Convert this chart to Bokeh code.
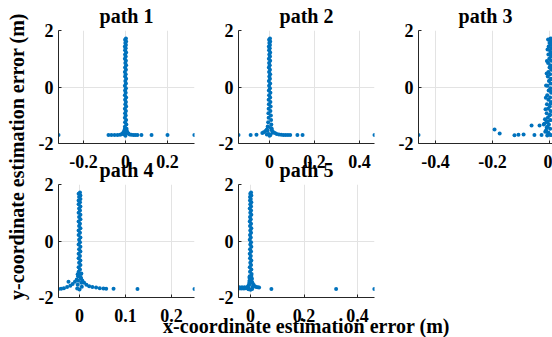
from bokeh.plotting import figure
from bokeh.layouts import row, column
from bokeh.models import FixedTicker, Range1d
from bokeh.embed import file_html
from bokeh.resources import INLINE

# ---------------- data ----------------
titles = ["path 1", "path 2", "path 3", "path 4", "path 5"]
x_label = "x-coordinate estimation error (m)"
y_label = "y-coordinate estimation error (m)"

x_limits = [(-0.319, 0.3286), (-0.138, 0.467), (-0.46, 0.0105), (-0.0457, 0.25), (-0.045, 0.4636)]
y_limits = (-2, 2)
x_ticks = [[-0.2, 0, 0.2], [0, 0.2, 0.4], [-0.4, -0.2, 0], [0, 0.1, 0.2], [0, 0.2, 0.4]]
x_tick_labels = [["-0.2", "0", "0.2"], ["0", "0.2", "0.4"], ["-0.4", "-0.2", "0"],
                 ["0", "0.1", "0.2"], ["0", "0.2", "0.4"]]
y_ticks = [-2, 0, 2]
y_tick_labels = ["-2", "0", "2"]

# y of the dense vertical band (shared shape of all paths)
column_y = [1.72, 1.67, 1.61, 1.56, 1.49, 1.43, 1.37, 1.30, 1.22, 1.15,
            1.08, 1.00, 0.93, 0.85, 0.77, 0.69, 0.61, 0.53, 0.45, 0.37,
            0.29, 0.21, 0.12, 0.04, -0.04, -0.12, -0.20, -0.29, -0.37, -0.45,
            -0.53, -0.61, -0.69, -0.77, -0.85, -0.93, -1.01, -1.09, -1.17, -1.25,
            -1.33, -1.41, -1.48, -1.55, -1.62, -1.68]

p1_col_x = [0.002, -0.002, 0.003, -0.001, 0.002, -0.003, 0.001, -0.002, 0.003, -0.002,
            0.001, -0.003, 0.002, -0.001, 0.003, -0.002, 0.002, -0.003, 0.001, -0.002,
            0.003, -0.001, 0.002, -0.003, 0.002, -0.002, 0.001, -0.003, 0.003, -0.002,
            0.002, -0.001, 0.003, -0.003, 0.002, -0.002, 0.001, -0.003, 0.003, -0.002,
            0.004, -0.003, 0.005, -0.004, 0.006, -0.005]
p2_col_x = [0.002, -0.002, 0.003, -0.001, 0.002, -0.003, 0.001, -0.002, 0.003, -0.001,
            0.002, -0.003, 0.003, -0.002, 0.001, -0.003, 0.002, -0.002, 0.003, -0.001,
            0.002, -0.003, 0.003, -0.002, 0.002, -0.003, 0.004, -0.002, 0.003, -0.004,
            0.004, -0.003, 0.005, -0.004, 0.004, -0.005, 0.006, -0.004, 0.007, -0.006,
            0.008, -0.007, 0.010, -0.009, 0.013, -0.012]
p3_col_x = [0.004, -0.002, 0.006, 0.000, 0.005, -0.003, 0.007, 0.001, 0.004, -0.004,
            0.006, -0.001, 0.005, -0.005, 0.003, 0.000, 0.006, -0.004, 0.002, -0.006,
            0.005, -0.002, 0.004, -0.007, 0.003, -0.003, 0.006, -0.008, 0.002, -0.004,
            0.005, -0.009, 0.001, -0.005, 0.004, -0.010, 0.000, -0.006, 0.003, -0.011,
            -0.002, -0.007, 0.002, -0.012, -0.004, 0.001]
p4_col_x = [0.001, -0.002, 0.002, -0.001, 0.002, -0.002, 0.001, -0.002, 0.002, -0.001,
            0.001, -0.002, 0.002, -0.001, 0.002, -0.002, 0.001, -0.001, 0.002, -0.002,
            0.001, -0.002, 0.002, -0.001, 0.001, -0.002, 0.002, -0.001, 0.002, -0.002,
            0.001, -0.002, 0.002, -0.001, 0.002, -0.002, 0.001, -0.002, 0.003, -0.002,
            0.003, -0.003, 0.004, -0.004, 0.005, -0.005]
p5_col_x = [0.002, -0.001, 0.003, -0.002, 0.001, -0.002, 0.003, -0.001, 0.002, -0.003,
            0.002, -0.001, 0.003, -0.002, 0.001, -0.003, 0.002, -0.002, 0.003, -0.001,
            0.002, -0.002, 0.001, -0.003, 0.002, -0.001, 0.003, -0.002, 0.002, -0.003,
            0.001, -0.002, 0.003, -0.001, 0.002, -0.003, 0.003, -0.002, 0.004, -0.003,
            0.005, -0.004, 0.006, -0.005, 0.008, -0.007]

# flare at the bottom of the band and isolated outliers
p1_tail_x = [-0.004, 0.005, -0.008, 0.009, -0.013, 0.014, -0.019, 0.020, -0.026, 0.028, 0.000,
             -0.319, -0.081, -0.067, -0.052, -0.038, 0.038, 0.047, 0.057, 0.076, 0.124, 0.200, 0.328]
p1_tail_y = [-1.50, -1.53, -1.58, -1.60, -1.64, -1.65, -1.67, -1.68, -1.69, -1.69, -1.73,
             -1.70, -1.70, -1.70, -1.70, -1.70, -1.70, -1.70, -1.70, -1.70, -1.70, -1.70, -1.70]

p2_tail_x = [-0.008, -0.012, -0.018, -0.026, -0.032, 0.006, 0.010, 0.016, 0.024, 0.032,
             0.042, 0.052, 0.062, 0.072, 0.082, 0.092, 0.000, -0.004, 0.004,
             -0.138, -0.084, -0.058, 0.124, 0.147, 0.467]
p2_tail_y = [-1.40, -1.50, -1.56, -1.60, -1.63, -1.45, -1.53, -1.59, -1.63, -1.66,
             -1.68, -1.69, -1.70, -1.70, -1.70, -1.70, -1.73, -1.66, -1.70,
             -1.70, -1.70, -1.69, -1.70, -1.70, -1.70]

p3_tail_x = [-0.005, 0.004, -0.007, 0.005, -0.009, 0.006, -0.010, 0.003, -0.012, 0.006,
             -0.013, 0.004, -0.014, 0.002, -0.016, -0.006, -0.018, -0.010, -0.015, -0.004,
             -0.008, 0.004,
             -0.460, -0.193, -0.175, -0.123, -0.109, -0.091, -0.063, -0.053, -0.035, -0.028,
             -0.020, -0.012]
p3_tail_y = [1.68, 1.52, 1.33, 1.12, 0.92, 0.71, 0.48, 0.27, 0.05, -0.16,
             -0.38, -0.58, -0.79, -0.98, -1.14, -1.22, -1.30, -1.44, -1.58, -1.64,
             -1.72, -1.70,
             -1.70, -1.50, -1.65, -1.71, -1.69, -1.68, -1.36, -1.70, -1.36, -1.70,
             -1.33, -1.55]

p4_tail_x = [-0.003, -0.006, -0.010, -0.015, -0.024, -0.020, -0.027, -0.034, -0.040, -0.046,
             0.003, 0.006, 0.010, 0.015, 0.021, 0.028, 0.036, 0.044, 0.052, 0.058,
             0.074, 0.126, 0.250, 0.000, -0.004, 0.004]
p4_tail_y = [-1.25, -1.36, -1.44, -1.52, -1.44, -1.58, -1.63, -1.67, -1.69, -1.70,
             -1.30, -1.40, -1.48, -1.55, -1.60, -1.63, -1.65, -1.67, -1.68, -1.69,
             -1.69, -1.70, -1.70, -1.72, -1.18, -1.15]

p5_tail_x = [-0.045, -0.040, -0.035, -0.030, -0.025, -0.020, -0.015, -0.011, -0.007, -0.004,
             0.004, 0.007, 0.011, 0.016, 0.021, 0.027, 0.032, 0.006, 0.000, -0.008,
             -0.004, 0.003, -0.042, -0.032, -0.022,
             0.078, 0.320, 0.463]
p5_tail_y = [-1.68, -1.67, -1.68, -1.67, -1.68, -1.67, -1.66, -1.62, -1.56, -1.46,
             -1.38, -1.48, -1.55, -1.60, -1.63, -1.64, -1.65, -1.70, -1.73, -1.71,
             -1.30, -1.24, -1.64, -1.64, -1.64,
             -1.70, -1.70, -1.70]

col_xs = [p1_col_x, p2_col_x, p3_col_x, p4_col_x, p5_col_x]
tail_xs = [p1_tail_x, p2_tail_x, p3_tail_x, p4_tail_x, p5_tail_x]
tail_ys = [p1_tail_y, p2_tail_y, p3_tail_y, p4_tail_y, p5_tail_y]

# ---------------- style ----------------
FONT = "Liberation Serif"
BLUE = "#0072BD"
AXIS = "#262626"
GRID = "#e3e3e3"


def make_panel(i, frame_w, left, right, top, bottom, xlabel=None):
    p = figure(frame_width=frame_w, frame_height=113,
               x_range=Range1d(*x_limits[i]), y_range=Range1d(*y_limits),
               title=titles[i], output_backend="svg", toolbar_location=None,
               min_border_left=left, min_border_right=right,
               min_border_top=top, min_border_bottom=bottom)
    p.background_fill_alpha = 0
    p.border_fill_alpha = 0
    p.outline_line_color = None

    p.title.text_font = FONT
    p.title.text_font_size = "20px"
    p.title.text_font_style = "bold"
    p.title.text_color = "#000000"
    p.title.align = "center"
    p.title.standoff = 7

    p.xaxis.ticker = FixedTicker(ticks=x_ticks[i])
    p.xaxis.major_label_overrides = {t: s for t, s in zip(x_ticks[i], x_tick_labels[i])}
    p.yaxis.ticker = FixedTicker(ticks=y_ticks)
    p.yaxis.major_label_overrides = {t: s for t, s in zip(y_ticks, y_tick_labels)}
    for ax in (p.xaxis, p.yaxis):
        ax.axis_line_color = AXIS
        ax.axis_line_width = 1
        ax.major_tick_line_color = AXIS
        ax.major_tick_in = 3
        ax.major_tick_out = 0
        ax.minor_tick_line_color = None
        ax.major_label_text_font = FONT
        ax.major_label_text_font_size = "18px"
        ax.major_label_text_font_style = "bold"
        ax.major_label_text_color = "#000000"
    p.xaxis.major_label_standoff = 11
    p.yaxis.major_label_standoff = 5
    if xlabel:
        p.xaxis.axis_label = xlabel
        p.xaxis.axis_label_text_font = FONT
        p.xaxis.axis_label_text_font_size = "20px"
        p.xaxis.axis_label_text_font_style = "bold"
        p.xaxis.axis_label_text_color = "#000000"
        p.xaxis.axis_label_standoff = -10

    p.grid.grid_line_color = GRID
    p.grid.grid_line_width = 1

    n = min(len(col_xs[i]), len(column_y))
    xs = col_xs[i][:n] + tail_xs[i]
    ys = column_y[:n] + tail_ys[i]
    p.scatter(xs, ys, size=4, fill_color=BLUE, line_color=None)
    return p


f1 = make_panel(0, 136, 24, 20, 32, 34)
f2 = make_panel(1, 136, 24, 20, 32, 34)
f3 = make_panel(2, 134, 24, 0, 32, 34)
f4 = make_panel(3, 136, 24, 20, 32, 34)
f5 = make_panel(4, 136, 88, 86, 32, 34, xlabel=x_label)
f5.margin = (0, 0, 0, -64)

# narrow panel holding the shared y label
ylab = figure(width=34, height=337, x_range=Range1d(0, 1), y_range=Range1d(0, 1),
              title=y_label, title_location="left", x_axis_type=None, y_axis_type=None,
              output_backend="svg", toolbar_location=None,
              min_border_left=27, min_border_right=0, min_border_top=0, min_border_bottom=25)
ylab.outline_line_color = None
ylab.background_fill_alpha = 0
ylab.border_fill_alpha = 0
ylab.grid.visible = False
ylab.title.text_font = FONT
ylab.title.text_font_size = "20px"
ylab.title.text_font_style = "bold"
ylab.title.text_color = "#000000"
ylab.title.align = "center"
ylab.title.standoff = 0

row1 = row(f1, f2, f3, margin=(-2, 0, 0, 0))
row2 = row(f4, f5, margin=(-25, 0, 0, 0))
layout = row(ylab, column(row1, row2))

open("out.html", "w").write(file_html(layout, INLINE))
